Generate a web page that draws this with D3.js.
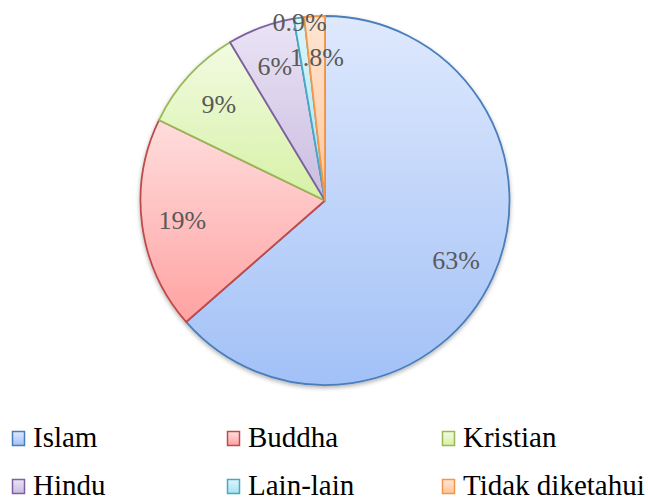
<!DOCTYPE html>
<html lang="en">
<head>
  <meta charset="UTF-8">
  <title>Agama</title>
  <script src="https://d3js.org/d3.v7.min.js"></script>
  <style>
    body {
      margin: 0;
      background-color: #ffffff;
    }
  </style>
</head>
<body>
  <div id="chart"></div>

  <script>
    // Data
    const categories = ['Islam', 'Buddha', 'Kristian', 'Hindu', 'Lain-lain', 'Tidak diketahui'];
    const values = [63.5, 18.6, 9.2, 5.9, 0.9, 1.8];
    const labels = ['63%', '19%', '9%', '6%', '0.9%', '1.8%'];

    // Colours: gradient top, gradient bottom, outline
    const topColors = ['#dfe9fd', '#ffdddd', '#f2fbe2', '#ebe4f5', '#def5fb', '#ffe6d4'];
    const bottomColors = ['#a2c1f7', '#ffa2a2', '#d6f1a6', '#c9bce0', '#a6e2f1', '#ffc69b'];
    const strokeColors = ['#4a7ebb', '#be4b48', '#98b954', '#7d60a0', '#46aac5', '#f69545'];

    const serif = 'Liberation Serif';

    const width = 648;
    const height = 501;
    const cx = 325;
    const cy = 200.5;
    const radius = 184.5;

    const svg = d3.select('#chart')
      .append('svg')
      .attr('width', width)
      .attr('height', height);

    const defs = svg.append('defs');

    categories.forEach((c, i) => {
      const grad = defs.append('linearGradient')
        .attr('id', 'grad' + i)
        .attr('x1', 0).attr('y1', 0)
        .attr('x2', 0).attr('y2', 1);
      grad.append('stop').attr('offset', '0%').attr('stop-color', topColors[i]);
      grad.append('stop').attr('offset', '100%').attr('stop-color', bottomColors[i]);
    });

    const shadow = defs.append('filter')
      .attr('id', 'shadow')
      .attr('x', '-10%').attr('y', '-10%')
      .attr('width', '120%').attr('height', '125%');
    shadow.append('feDropShadow')
      .attr('dx', 0)
      .attr('dy', 2)
      .attr('stdDeviation', 2)
      .attr('flood-color', '#000')
      .attr('flood-opacity', 0.3);

    const pie = d3.pie()
      .sort(null)
      .value(d => d);

    const arcs = pie(values);

    const arc = d3.arc()
      .innerRadius(0)
      .outerRadius(radius);

    const g = svg.append('g')
      .attr('transform', `translate(${cx}, ${cy})`);

    g.append('g')
      .attr('filter', 'url(#shadow)')
      .selectAll('path')
      .data(arcs)
      .enter()
      .append('path')
      .attr('d', arc)
      .attr('fill', (d, i) => `url(#grad${i})`)
      .attr('stroke', (d, i) => strokeColors[i])
      .attr('stroke-width', 1.8)
      .attr('stroke-linejoin', 'round');

    // Labels: small slices sit near the rim, others inside
    const labelR = d => (d.endAngle - d.startAngle) < 0.07 ? radius * 0.98 : radius * 0.78;
    const labelArc = d3.arc()
      .innerRadius(labelR)
      .outerRadius(labelR);

    g.selectAll('.pct')
      .data(arcs)
      .enter()
      .append('text')
      .attr('class', 'pct')
      .attr('font-family', serif)
      .attr('font-size', 26)
      .attr('fill', '#595959')
      .attr('text-anchor', 'middle')
      .attr('dy', '0.35em')
      .attr('transform', d => `translate(${labelArc.centroid(d)})`)
      .text((d, i) => labels[i]);

    // Legend
    const legendX = d3.scalePoint()
      .domain([0, 1, 2])
      .range([12, 442]);
    const legendY = d3.scalePoint()
      .domain([0, 1])
      .range([447, 495]);

    const legend = svg.append('g')
      .attr('class', 'legend');

    const items = legend.selectAll('g')
      .data(categories)
      .enter()
      .append('g')
      .attr('transform', (d, i) => `translate(${legendX(i % 3)}, ${legendY(Math.floor(i / 3))})`);

    items.append('rect')
      .attr('x', 0.5)
      .attr('y', -15.5)
      .attr('width', 12)
      .attr('height', 14)
      .attr('fill', (d, i) => `url(#grad${i})`)
      .attr('stroke', (d, i) => strokeColors[i])
      .attr('stroke-width', 1.5);

    items.append('text')
      .attr('x', 21)
      .attr('y', 0)
      .attr('font-family', serif)
      .attr('font-size', 29)
      .attr('fill', '#000')
      .text(d => d);
  </script>
</body>
</html>
